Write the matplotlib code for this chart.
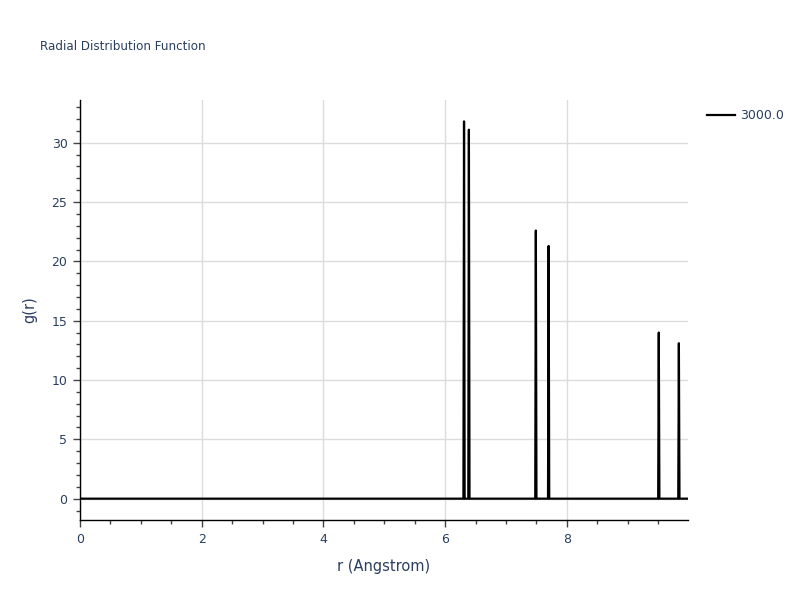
"""Radial distribution function plot."""
import matplotlib

matplotlib.use("Agg")
import matplotlib.pyplot as plt
from matplotlib.ticker import MultipleLocator

# g(r) at 3000.0 -- sparse samples, zero everywhere between peaks
r = [0.0, 6.30, 6.31, 6.32, 6.38, 6.39, 6.40, 7.48, 7.49, 7.50,
     7.69, 7.70, 7.71, 9.50, 9.51, 9.52, 9.83, 9.84, 9.85, 9.99]
g = [0.0, 0.0, 31.8, 0.0, 0.0, 31.1, 0.0, 0.0, 22.6, 0.0,
     0.0, 21.3, 0.0, 0.0, 14.0, 0.0, 0.0, 13.1, 0.0, 0.0]
series_name = "3000.0"

text_color = "#2a3f5f"
plt.rcParams["font.family"] = ["DejaVu Sans"]

fig = plt.figure(figsize=(8, 6), dpi=100)
ax = fig.add_axes([0.1, 0.1333, 0.76, 0.70])

ax.plot(r, g, color="black", linewidth=1.6, label=series_name)

ax.set_xlim(0, 9.99)
ax.set_ylim(-1.8, 33.6)
ax.xaxis.set_major_locator(MultipleLocator(2))
ax.xaxis.set_minor_locator(MultipleLocator(0.5))
ax.yaxis.set_major_locator(MultipleLocator(5))
ax.yaxis.set_minor_locator(MultipleLocator(1))
ax.grid(True, which="major", color="#dcdcdc", linewidth=1)
ax.set_axisbelow(True)

for side in ["top", "right"]:
    ax.spines[side].set_visible(False)
for side in ["left", "bottom"]:
    ax.spines[side].set_color("black")
    ax.spines[side].set_linewidth(1)

ax.tick_params(which="major", direction="out", length=5, width=1,
               color="#444444", labelcolor=text_color, labelsize=9, pad=4)
ax.tick_params(which="minor", direction="out", length=3, width=1,
               color="#444444")

ax.set_xlabel("r (Angstrom)", color=text_color, fontsize=10.5, labelpad=10)
ax.set_ylabel("g(r)", color=text_color, fontsize=10.5, labelpad=10)

fig.text(0.05, 0.923, "Radial Distribution Function", color=text_color,
         fontsize=8.6, va="center", ha="left")

leg = ax.legend(loc="upper left", bbox_to_anchor=(1.013, 1.005), frameon=False,
                fontsize=9, handlelength=2.2, handletextpad=0.4)
for t in leg.get_texts():
    t.set_color(text_color)

fig.savefig("out.png", dpi=100)
